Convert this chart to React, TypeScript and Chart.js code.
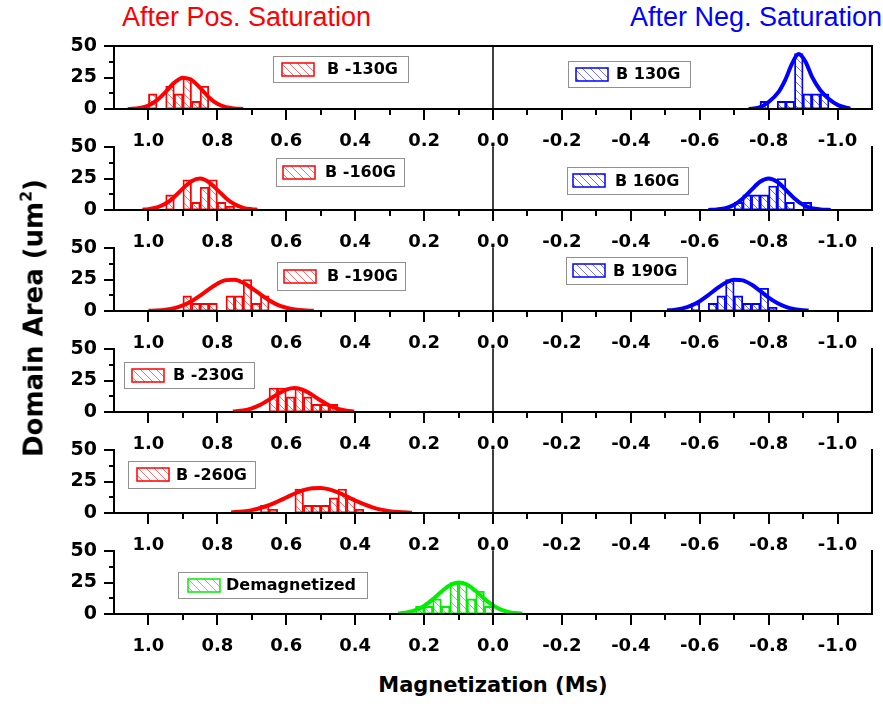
import React, { useEffect, useRef } from 'react';
import { Chart, registerables } from 'chart.js';

Chart.register(...registerables);

// ---------- axis ticks ----------
const X_TICKS = [1.0, 0.8, 0.6, 0.4, 0.2, 0.0, -0.2, -0.4, -0.6, -0.8, -1.0];
const X_MINOR = [0.9, 0.7, 0.5, 0.3, 0.1, -0.1, -0.3, -0.5, -0.7, -0.9];
const Y_TICKS = [0, 25, 50];
const Y_MINOR = [12.5, 37.5];

// ---------- histogram bins (bin centre, Ms) and heights (um^2) ----------
const p1PosBins = [0.9875, 0.9375, 0.9125, 0.8875, 0.8625, 0.8375];
const p1PosHeights = [12, 18, 12, 25, 6, 18];
const p1NegBins = [-0.7875, -0.8375, -0.8625, -0.8875, -0.9125, -0.9375, -0.9625];
const p1NegHeights = [6, 6, 6, 44, 12, 12, 12];

const p2PosBins = [0.9375, 0.8875, 0.8625, 0.8375, 0.8125, 0.7875, 0.7625];
const p2PosHeights = [12, 24, 6, 18, 24, 6, 3];
const p2NegBins = [-0.7125, -0.7375, -0.7625, -0.7875, -0.8125, -0.8375, -0.8625, -0.9125];
const p2NegHeights = [6, 12, 12, 12, 19, 25, 6, 6];

const p3PosBins = [0.8875, 0.8625, 0.8375, 0.8125, 0.7625, 0.7375, 0.7125, 0.6875, 0.6625];
const p3PosHeights = [12, 6, 6, 6, 12, 12, 25, 6, 12];
const p3NegBins = [-0.5875, -0.6375, -0.6625, -0.6875, -0.7125, -0.7375, -0.7625, -0.7875, -0.8125];
const p3NegHeights = [6, 6, 12, 25, 12, 6, 6, 18, 3];

const p4PosBins = [0.6375, 0.6125, 0.5875, 0.5625, 0.5375, 0.5125, 0.4875, 0.4625];
const p4PosHeights = [19, 19, 12, 19, 12, 6, 6, 6];

const p5PosBins = [0.6625, 0.6375, 0.5625, 0.5375, 0.5125, 0.4875, 0.4625, 0.4375, 0.4125, 0.3875];
const p5PosHeights = [6, 3, 19, 6, 6, 6, 12, 19, 12, 3];

const p6DemagBins = [0.2125, 0.1875, 0.1625, 0.1375, 0.1125, 0.0875, 0.0625, 0.0375, 0.0125];
const p6DemagHeights = [6, 6, 12, 6, 25, 25, 12, 18, 6];

// ---------- fitted curves ----------
const p1PosFitX = [1.06, 1.025, 1.0, 0.975, 0.95, 0.925, 0.9, 0.875, 0.85, 0.825, 0.8, 0.775, 0.75, 0.725];
const p1PosFitY = [0.1, 0.9, 2.8, 7.0, 13.6, 20.9, 24.9, 23.1, 16.7, 9.4, 4.1, 1.4, 0.4, 0.1];
const p1NegFitX = [-0.742, -0.771, -0.8, -0.829, -0.848, -0.868, -0.887, -0.907, -0.926, -0.95, -0.974, -1.003, -1.037];
const p1NegFitY = [0.1, 1.0, 5.6, 13.6, 22.9, 36.0, 43.6, 37.5, 25.5, 14.9, 8.2, 2.9, 0.3];

const p2PosFitX = [1.0175, 1.0, 0.975, 0.95, 0.925, 0.9, 0.875, 0.85, 0.825, 0.8, 0.775, 0.75, 0.725, 0.7, 0.684];
const p2PosFitY = [0.3, 0.7, 2.1, 5.1, 10.4, 17.1, 22.9, 25.0, 22.2, 16.0, 9.4, 4.5, 1.7, 0.6, 0.3];
const p2NegFitX = [-0.625, -0.65, -0.675, -0.7, -0.725, -0.75, -0.775, -0.8, -0.825, -0.85, -0.875, -0.9, -0.925, -0.95, -0.98];
const p2NegFitY = [0.1, 0.5, 1.5, 4.2, 9.2, 16.0, 22.4, 25.0, 22.4, 16.0, 9.2, 4.2, 1.5, 0.5, 0.1];

const p3PosFitX = [1.0, 0.975, 0.95, 0.925, 0.9, 0.875, 0.85, 0.825, 0.8, 0.775, 0.75, 0.725, 0.7, 0.675, 0.65, 0.625, 0.6, 0.575, 0.55, 0.52];
const p3PosFitY = [0.2, 0.4, 1.0, 2.2, 4.4, 7.7, 12.2, 17.2, 21.7, 24.5, 24.8, 22.4, 18.2, 13.2, 8.5, 4.9, 2.6, 1.2, 0.5, 0.2];
const p3NegFitX = [-0.505, -0.525, -0.55, -0.575, -0.6, -0.625, -0.65, -0.675, -0.7, -0.725, -0.75, -0.775, -0.8, -0.825, -0.85, -0.875, -0.9, -0.916];
const p3NegFitY = [0.4, 0.9, 2.1, 4.3, 7.8, 12.6, 17.9, 22.4, 24.8, 24.3, 21.0, 16.0, 10.7, 6.4, 3.3, 1.5, 0.6, 0.4];

const p4PosFitX = [0.755, 0.725, 0.7, 0.675, 0.65, 0.625, 0.6, 0.575, 0.55, 0.525, 0.5, 0.475, 0.45, 0.425, 0.403];
const p4PosFitY = [0.4, 1.2, 2.9, 5.7, 9.8, 14.2, 17.8, 19.0, 17.3, 13.6, 9.1, 5.2, 2.5, 1.1, 0.5];

const p5PosFitX = [0.76, 0.725, 0.7, 0.675, 0.65, 0.625, 0.6, 0.575, 0.55, 0.525, 0.5, 0.475, 0.45, 0.425, 0.4, 0.375, 0.35, 0.325, 0.3, 0.275, 0.235];
const p5PosFitY = [0.5, 1.3, 2.3, 4.0, 6.2, 9.1, 12.3, 15.5, 18.1, 19.7, 19.9, 18.7, 16.3, 13.2, 9.9, 7.0, 4.5, 2.7, 1.5, 0.8, 0.2];

const p6DemagFitX = [0.275, 0.25, 0.225, 0.2, 0.175, 0.15, 0.125, 0.1, 0.075, 0.05, 0.025, 0.0, -0.025, -0.05, -0.085];
const p6DemagFitY = [0.4, 1.2, 3.0, 6.4, 11.6, 17.7, 22.8, 25.0, 23.2, 18.2, 12.0, 6.8, 3.2, 1.3, 0.3];

// ---------- labels ----------
const LABELS = ['B -130G', 'B 130G', 'B -160G', 'B 160G', 'B -190G', 'B 190G', 'B -230G', 'B -260G', 'Demagnetized'];

// ---------- styles / layout ----------
const RED = '#ff0000';
const BLUE = '#0000ff';
const GREEN = '#00ee00';
const HATCH = {
  [RED]: 'rgba(255,0,0,0.55)',
  [BLUE]: 'rgba(0,0,255,0.55)',
  [GREEN]: 'rgba(0,210,0,0.6)',
} as Record<string, string>;

const CANVAS_W = 883;
const CANVAS_H = 125;
const PAD_TOP = 16;
const PLOT_H = 63;

type Legend = { x: number; y: number; w: number; h: number; sx: number; tx: number };
type Side = { bins: number[]; heights: number[]; fitX: number[]; fitY: number[]; color: string; label: string; legend: Legend };
type PanelDef = { plotTop: number; topBorder: boolean; sides: Side[] };

const PANELS: PanelDef[] = [
  {
    plotTop: 46, topBorder: true, sides: [
      { bins: p1PosBins, heights: p1PosHeights, fitX: p1PosFitX, fitY: p1PosFitY, color: RED, label: LABELS[0], legend: { x: 273, y: 56, w: 135, h: 26, sx: 9, tx: 54 } },
      { bins: p1NegBins, heights: p1NegHeights, fitX: p1NegFitX, fitY: p1NegFitY, color: BLUE, label: LABELS[1], legend: { x: 568, y: 61, w: 122, h: 26, sx: 8, tx: 48 } },
    ],
  },
  {
    plotTop: 147, topBorder: false, sides: [
      { bins: p2PosBins, heights: p2PosHeights, fitX: p2PosFitX, fitY: p2PosFitY, color: RED, label: LABELS[2], legend: { x: 276, y: 158, w: 128, h: 28, sx: 7, tx: 49 } },
      { bins: p2NegBins, heights: p2NegHeights, fitX: p2NegFitX, fitY: p2NegFitY, color: BLUE, label: LABELS[3], legend: { x: 567, y: 167, w: 121, h: 27, sx: 6, tx: 48 } },
    ],
  },
  {
    plotTop: 248, topBorder: false, sides: [
      { bins: p3PosBins, heights: p3PosHeights, fitX: p3PosFitX, fitY: p3PosFitY, color: RED, label: LABELS[4], legend: { x: 277, y: 262, w: 128, h: 28, sx: 7, tx: 50 } },
      { bins: p3NegBins, heights: p3NegHeights, fitX: p3NegFitX, fitY: p3NegFitY, color: BLUE, label: LABELS[5], legend: { x: 566, y: 257, w: 121, h: 27, sx: 7, tx: 47 } },
    ],
  },
  {
    plotTop: 349, topBorder: false, sides: [
      { bins: p4PosBins, heights: p4PosHeights, fitX: p4PosFitX, fitY: p4PosFitY, color: RED, label: LABELS[6], legend: { x: 124, y: 362, w: 130, h: 26, sx: 8, tx: 49 } },
    ],
  },
  {
    plotTop: 450, topBorder: false, sides: [
      { bins: p5PosBins, heights: p5PosHeights, fitX: p5PosFitX, fitY: p5PosFitY, color: RED, label: LABELS[7], legend: { x: 128, y: 461, w: 127, h: 27, sx: 9, tx: 48 } },
    ],
  },
  {
    plotTop: 551, topBorder: false, sides: [
      { bins: p6DemagBins, heights: p6DemagHeights, fitX: p6DemagFitX, fitY: p6DemagFitY, color: GREEN, label: LABELS[8], legend: { x: 178, y: 572, w: 189, h: 26, sx: 10, tx: 48 } },
    ],
  },
];

function makeHatch(color: string): CanvasPattern | string {
  const c = document.createElement('canvas');
  c.width = 8;
  c.height = 8;
  const g = c.getContext('2d');
  if (!g) return 'transparent';
  g.strokeStyle = HATCH[color] || color;
  g.lineWidth = 1;
  g.beginPath();
  g.moveTo(0, 0); g.lineTo(8, 8);
  g.moveTo(-4, 4); g.lineTo(4, 12);
  g.moveTo(4, -4); g.lineTo(12, 4);
  g.stroke();
  return g.createPattern(c, 'repeat') || 'transparent';
}

function Panel({ def }: { def: PanelDef }) {
  const ref = useRef<HTMLCanvasElement>(null);
  const canvasTop = def.plotTop - PAD_TOP;

  useEffect(() => {
    const canvas = ref.current;
    if (!canvas) return;
    const datasets: any[] = [];
    def.sides.forEach((s) => {
      datasets.push({
        type: 'bar',
        data: s.bins.map((b, k) => ({ x: b, y: s.heights[k] })),
        backgroundColor: makeHatch(s.color),
        borderColor: s.color,
        borderWidth: 1.2,
        borderSkipped: false,
        barPercentage: 1,
        categoryPercentage: 1,
        grouped: false,
        order: 2,
      });
      datasets.push({
        type: 'line',
        data: s.fitX.map((x, k) => ({ x, y: s.fitY[k] })),
        borderColor: s.color,
        borderWidth: 4,
        pointRadius: 0,
        fill: false,
        cubicInterpolationMode: 'monotone',
        order: 1,
      });
    });

    const framePlugin = {
      id: 'frame',
      afterDatasetsDraw(chart: any) {
        const { ctx, chartArea: a, scales } = chart;
        const xs = scales.x;
        const ys = scales.y;
        ctx.save();
        ctx.strokeStyle = '#000';
        ctx.lineCap = 'square';
        ctx.lineWidth = 2;
        ctx.beginPath();
        ctx.moveTo(a.left, a.top);
        ctx.lineTo(a.left, a.bottom);
        ctx.lineTo(a.right, a.bottom);
        ctx.lineTo(a.right, a.top);
        if (def.topBorder) ctx.lineTo(a.left, a.top);
        ctx.stroke();
        // zero line
        const x0 = xs.getPixelForValue(0);
        ctx.lineWidth = 1.5;
        ctx.beginPath();
        ctx.moveTo(x0, a.top);
        ctx.lineTo(x0, a.bottom);
        ctx.stroke();
        // ticks
        ctx.lineWidth = 2;
        ctx.lineCap = 'butt';
        ctx.beginPath();
        X_TICKS.forEach((v) => { const p = Math.round(xs.getPixelForValue(v)); ctx.moveTo(p, a.bottom); ctx.lineTo(p, a.bottom + 11); });
        X_MINOR.forEach((v) => { const p = Math.round(xs.getPixelForValue(v)); ctx.moveTo(p, a.bottom); ctx.lineTo(p, a.bottom + 6); });
        Y_TICKS.forEach((v) => { const p = Math.round(ys.getPixelForValue(v)); ctx.moveTo(a.left, p); ctx.lineTo(a.left - 10, p); });
        Y_MINOR.forEach((v) => { const p = Math.round(ys.getPixelForValue(v)); ctx.moveTo(a.left, p); ctx.lineTo(a.left - 5, p); });
        ctx.stroke();
        // legends
        def.sides.forEach((s) => {
          const L = s.legend;
          const top = L.y - canvasTop;
          ctx.fillStyle = '#fff';
          ctx.fillRect(L.x, top, L.w, L.h);
          ctx.strokeStyle = '#909090';
          ctx.lineWidth = 1;
          ctx.strokeRect(L.x + 0.5, top + 0.5, L.w, L.h);
          const sw = 32, sh = 13;
          const sx = L.x + L.sx;
          const sy = Math.round(top + (L.h - sh) / 2);
          ctx.fillStyle = makeHatch(s.color);
          ctx.fillRect(sx, sy, sw, sh);
          ctx.strokeStyle = s.color;
          ctx.lineWidth = 1.5;
          ctx.strokeRect(sx, sy, sw, sh);
          ctx.fillStyle = '#000';
          ctx.font = 'bold 16px "DejaVu Sans"';
          ctx.textBaseline = 'middle';
          ctx.textAlign = 'left';
          ctx.fillText(s.label, L.x + L.tx, top + L.h / 2 + 1);
        });
        ctx.restore();
      },
    };

    const chart = new Chart(canvas, {
      type: 'bar',
      data: { datasets },
      options: {
        animation: false,
        responsive: false,
        maintainAspectRatio: false,
        layout: { padding: { top: PAD_TOP, right: 11, left: 0, bottom: 0 } },
        plugins: { legend: { display: false }, tooltip: { enabled: false } },
        scales: {
          x: {
            type: 'linear',
            reverse: true,
            min: -1.1,
            max: 1.1,
            offset: false,
            afterBuildTicks: (s: any) => { s.ticks = X_TICKS.map((v) => ({ value: v })); },
            afterFit: (s: any) => {
              s.height = CANVAS_H - PAD_TOP - PLOT_H;
              s.paddingLeft = 0; s.paddingRight = 0; s.paddingTop = 0; s.paddingBottom = 0;
            },
            grid: { display: false, drawTicks: false },
            border: { display: false },
            ticks: {
              color: '#000',
              font: { family: '"DejaVu Sans"', weight: 'bold', size: 18 },
              padding: 22,
              maxRotation: 0,
              autoSkip: false,
              callback: (v: any) => (Math.abs(Number(v)) < 1e-9 ? '0.0' : Number(v).toFixed(1)),
            },
          },
          y: {
            type: 'linear',
            min: 0,
            max: 50,
            afterBuildTicks: (s: any) => { s.ticks = Y_TICKS.map((v) => ({ value: v })); },
            afterFit: (s: any) => {
              s.width = 114;
              s.paddingLeft = 0; s.paddingRight = 0; s.paddingTop = 0; s.paddingBottom = 0;
            },
            grid: { display: false, drawTicks: false },
            border: { display: false },
            ticks: {
              color: '#000',
              font: { family: '"DejaVu Sans"', weight: 'bold', size: 19 },
              padding: 17,
              callback: (v: any) => String(v),
            },
          },
        },
      } as any,
      plugins: [framePlugin],
    });
    return () => chart.destroy();
  }, []);

  return (
    <canvas
      ref={ref}
      width={CANVAS_W}
      height={CANVAS_H}
      style={{ position: 'absolute', left: 0, top: canvasTop, width: CANVAS_W, height: CANVAS_H }}
    />
  );
}

export default function App() {
  const titleFont = '27px "Liberation Sans", Arial, sans-serif';
  return (
    <div style={{ position: 'absolute', left: 0, top: 0, width: 883, height: 708, background: '#fff', overflow: 'hidden' }}>
      <div style={{ position: 'absolute', left: 122, top: 2, font: titleFont, lineHeight: '30px', color: RED, whiteSpace: 'nowrap' }}>
        After Pos. Saturation
      </div>
      <div style={{ position: 'absolute', left: 630, top: 2, font: titleFont, lineHeight: '30px', color: BLUE, whiteSpace: 'nowrap' }}>
        After Neg. Saturation
      </div>
      {PANELS.map((p, i) => (
        <Panel key={i} def={p} />
      ))}
      <div
        style={{
          position: 'absolute', left: 30, top: 318, transform: 'translate(-50%, -50%) rotate(-90deg)',
          font: 'bold 26px "DejaVu Sans"', color: '#000', whiteSpace: 'nowrap', lineHeight: '28px',
        }}
      >
        Domain Area (um<span style={{ fontSize: '0.6em', verticalAlign: '0.7em' }}>2</span>)
      </div>
      <div
        style={{
          position: 'absolute', left: 493, top: 673, transform: 'translateX(-50%)',
          font: 'bold 21px "DejaVu Sans"', color: '#000', whiteSpace: 'nowrap', lineHeight: '24px',
        }}
      >
        Magnetization (Ms)
      </div>
    </div>
  );
}
